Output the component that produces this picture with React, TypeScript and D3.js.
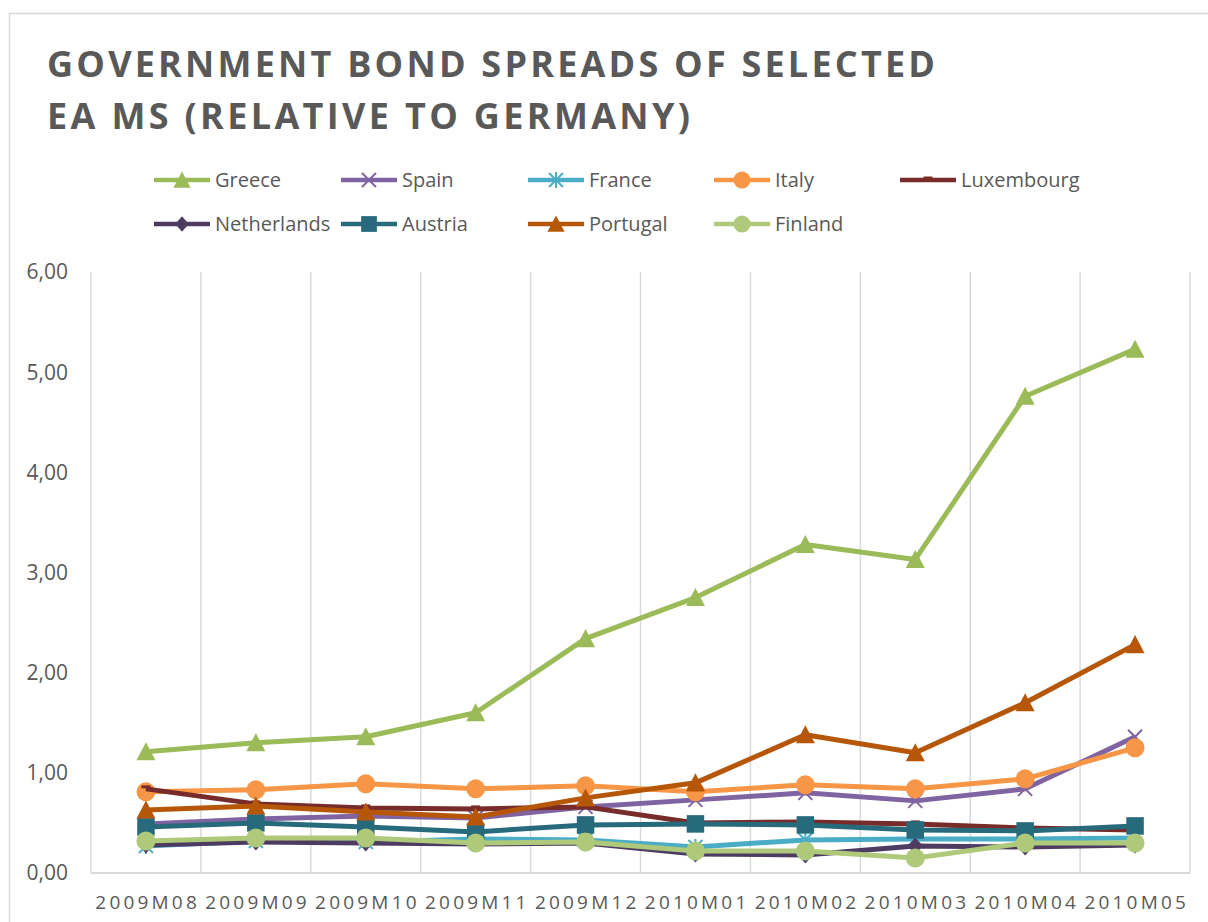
import React from "react";
import * as d3 from "d3";

const months = ["2009M08","2009M09","2009M10","2009M11","2009M12","2010M01","2010M02","2010M03","2010M04","2010M05"];
const yTicks = [0, 1, 2, 3, 4, 5, 6];

const greece = [1.21, 1.30, 1.36, 1.60, 2.34, 2.75, 3.28, 3.13, 4.76, 5.23];
const spain = [0.49, 0.54, 0.57, 0.55, 0.66, 0.73, 0.80, 0.72, 0.84, 1.36];
const france = [0.27, 0.32, 0.31, 0.34, 0.33, 0.26, 0.33, 0.34, 0.34, 0.35];
const italy = [0.81, 0.83, 0.89, 0.84, 0.87, 0.81, 0.88, 0.84, 0.94, 1.25];
const luxembourg = [0.84, 0.69, 0.65, 0.64, 0.66, 0.50, 0.51, 0.49, 0.45, 0.43];
const netherlands = [0.28, 0.31, 0.30, 0.29, 0.30, 0.19, 0.18, 0.27, 0.26, 0.28];
const austria = [0.46, 0.50, 0.46, 0.41, 0.48, 0.49, 0.48, 0.43, 0.42, 0.47];
const portugal = [0.63, 0.67, 0.61, 0.56, 0.75, 0.90, 1.38, 1.20, 1.70, 2.28];
const finland = [0.32, 0.35, 0.35, 0.30, 0.31, 0.22, 0.22, 0.15, 0.30, 0.30];

type Marker = "triangle" | "x" | "star" | "circle" | "dash" | "diamond" | "square";

const series: { name: string; values: number[]; color: string; marker: Marker }[] = [
  { name: "Greece", values: greece, color: "#9BBB59", marker: "triangle" },
  { name: "Spain", values: spain, color: "#8064A2", marker: "x" },
  { name: "France", values: france, color: "#4BACC6", marker: "star" },
  { name: "Italy", values: italy, color: "#F79646", marker: "circle" },
  { name: "Luxembourg", values: luxembourg, color: "#772C2A", marker: "dash" },
  { name: "Netherlands", values: netherlands, color: "#4D3B62", marker: "diamond" },
  { name: "Austria", values: austria, color: "#276A7C", marker: "square" },
  { name: "Portugal", values: portugal, color: "#B65708", marker: "triangle" },
  { name: "Finland", values: finland, color: "#AFC97A", marker: "circle" },
];

const W = 1208, H = 922;
const plot = { left: 91, right: 1190, top: 272, bottom: 873 };
const textColor = "#595959";
const gridColor = "#D9D9D9";
const FONT = "'Open Sans', 'DejaVu Sans', sans-serif";

function MarkerShape({ type, x, y, color, legend }: { type: Marker; x: number; y: number; color: string; legend?: boolean }) {
  const k = legend ? 0.9 : 1;
  switch (type) {
    case "triangle": {
      const s = 9.5 * k;
      return <path d={`M${x},${y - s} L${x + s},${y + s * 0.9} L${x - s},${y + s * 0.9} Z`} fill={color} />;
    }
    case "circle":
      return <circle cx={x} cy={y} r={9.5 * k} fill={color} />;
    case "square": {
      const s = 17.5 * k;
      return <rect x={x - s / 2} y={y - s / 2} width={s} height={s} fill={color} />;
    }
    case "diamond":
      return <path d={`M${x},${y - 8.5 * k} L${x + 7.5 * k},${y} L${x},${y + 8.5 * k} L${x - 7.5 * k},${y} Z`} fill={color} />;
    case "x":
      return (
        <g stroke={color} strokeWidth={2}>
          <line x1={x - 7} y1={y - 7} x2={x + 7} y2={y + 7} />
          <line x1={x - 7} y1={y + 7} x2={x + 7} y2={y - 7} />
        </g>
      );
    case "star":
      return (
        <g stroke={color} strokeWidth={2}>
          <line x1={x - 7} y1={y - 7} x2={x + 7} y2={y + 7} />
          <line x1={x - 7} y1={y + 7} x2={x + 7} y2={y - 7} />
          <line x1={x} y1={y - 8} x2={x} y2={y + 8} />
        </g>
      );
    case "dash":
      return <rect x={x - 4.5} y={y - 3.5} width={9} height={3} fill={color} />;
  }
  return null;
}

export default function App() {
  const x = d3.scaleBand<string>().domain(months).range([plot.left, plot.right]);
  const y = d3.scaleLinear().domain([0, 6]).range([plot.bottom, plot.top]);
  const cx = (m: string) => (x(m) as number) + x.bandwidth() / 2;
  const line = d3
    .line<number>()
    .x((_, i) => cx(months[i]))
    .y((d) => y(d));

  const legendCols = [154, 341, 528, 714, 900];
  const legendRows = [180, 224];

  return (
    <svg
      width={W}
      height={H}
      style={{ position: "absolute", left: 0, top: 0, background: "#fff" }}
      fontFamily={FONT}
    >
      <rect x={0} y={0} width={W} height={H} fill="#fff" />
      <rect x={9.5} y={13.5} width={W + 20} height={H + 20} fill="none" stroke={gridColor} strokeWidth={1.5} />

      {/* Title */}
      <text x={47} y={77} fontSize={36} fontWeight={700} fill={textColor} textLength={888} lengthAdjust="spacing">
        GOVERNMENT BOND SPREADS OF SELECTED
      </text>
      <text x={47} y={129} fontSize={36} fontWeight={700} fill={textColor} textLength={643} lengthAdjust="spacing">
        EA MS (RELATIVE TO GERMANY)
      </text>

      {/* Legend */}
      {series.map((s, i) => {
        const col = i < 5 ? i : i - 5;
        const row = i < 5 ? 0 : 1;
        const lx = legendCols[col];
        const ly = legendRows[row];
        return (
          <g key={s.name}>
            <line x1={lx} y1={ly} x2={lx + 56} y2={ly} stroke={s.color} strokeWidth={4.5} />
            <MarkerShape type={s.marker} x={lx + 28} y={ly} color={s.color} legend />
            <text x={lx + 61} y={ly} dy="0.35em" fontSize={20} fill={textColor}>
              {s.name}
            </text>
          </g>
        );
      })}

      {/* Gridlines (vertical) */}
      {d3.range(months.length + 1).map((i) => {
        const gx = plot.left + i * x.step();
        return <line key={i} x1={gx} x2={gx} y1={plot.top} y2={plot.bottom} stroke={gridColor} strokeWidth={1.5} />;
      })}
      <line x1={plot.left} x2={plot.right} y1={plot.bottom} y2={plot.bottom} stroke={gridColor} strokeWidth={2} />

      {/* Y axis labels */}
      {yTicks.map((t) => (
        <text key={t} x={68} y={y(t)} dy="0.35em" textAnchor="end" fontSize={21} fill={textColor}>
          {d3.format(".2f")(t).replace(".", ",")}
        </text>
      ))}

      {/* X axis labels */}
      {months.map((m) => (
        <text key={m} x={cx(m) + 1.7} y={909} textAnchor="middle" fontSize={19} fill={textColor} letterSpacing={3.2}>
          {m}
        </text>
      ))}

      {/* Series */}
      {series.map((s) => (
        <g key={s.name}>
          <path d={line(s.values) || ""} fill="none" stroke={s.color} strokeWidth={5} strokeLinejoin="round" />
          {s.values.map((v, i) => (
            <MarkerShape key={i} type={s.marker} x={cx(months[i])} y={y(v)} color={s.color} />
          ))}
        </g>
      ))}
    </svg>
  );
}
